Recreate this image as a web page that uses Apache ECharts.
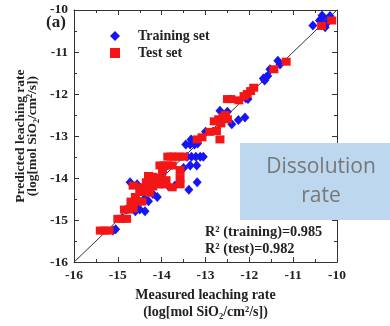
<!DOCTYPE html>
<html>
<head>
<meta charset="utf-8">
<script src="https://cdn.jsdelivr.net/npm/echarts@6/dist/echarts.min.js"></script>
<style>
html,body{margin:0;padding:0;background:#fff;}
#chart{width:390px;height:326px;}
</style>
</head>
<body>
<div id="chart"></div>
<script>
// ---- data (log[mol SiO2/cm2/s]) ----
const seriesNames = ['Training set', 'Test set'];
const xTicks = [-16, -15, -14, -13, -12, -11, -10];
const yTicks = [-16, -15, -14, -13, -12, -11, -10];
const diagonal = [[-16, -16], [-10, -10]];
const trainingSet = [
  [-10.32,-10.18],[-10.34,-10.13],[-10.16,-10.14],[-10.27,-10.41],[-10.55,-10.37],[-10.22,-10.30],[-10.40,-10.25],
  [-11.35,-11.21],[-11.30,-11.30],[-11.53,-11.41],[-11.62,-11.60],[-11.68,-11.63],[-11.65,-11.68],[-11.58,-11.57],
  [-12.03,-12.12],[-12.08,-12.10],
  [-12.67,-12.40],[-12.50,-12.42],[-12.10,-12.56],[-12.25,-12.62],[-12.40,-12.72],
  [-13.00,-12.90],[-13.33,-13.08],[-13.45,-13.20],[-13.35,-13.20],[-13.25,-13.20],[-13.18,-13.18],
  [-13.42,-13.49],[-13.32,-13.49],[-13.22,-13.49],[-13.12,-13.49],[-13.05,-13.49],
  [-13.35,-13.70],[-13.50,-13.76],[-13.20,-13.70],[-13.19,-14.10],[-13.38,-14.28],
  [-13.90,-13.72],[-14.00,-13.95],[-13.85,-14.18],[-13.70,-14.18],
  [-14.56,-14.15],[-14.72,-14.10],[-14.20,-14.38],[-14.10,-14.45],[-14.30,-14.55],
  [-14.38,-14.50],[-14.56,-14.60],[-14.60,-14.79],[-14.80,-14.75],[-14.38,-14.79],[-14.50,-14.75],
  [-14.90,-14.95],[-15.11,-15.25],[-15.05,-15.22]
];
const testSet = [
  [-10.12,-10.25],[-10.35,-10.38],
  [-11.16,-11.23],[-11.44,-11.41],
  [-11.90,-11.85],[-11.97,-11.93],[-12.05,-12.00],[-12.12,-12.05],
  [-12.50,-12.12],[-12.42,-12.12],[-12.24,-12.15],
  [-12.55,-12.50],[-12.60,-12.55],[-12.70,-12.60],[-12.80,-12.65],[-12.65,-12.70],[-12.50,-12.60],
  [-12.90,-12.90],[-12.75,-12.88],[-12.67,-13.08],[-13.08,-13.03],[-13.19,-13.08],
  [-13.86,-13.49],[-13.78,-13.49],[-13.70,-13.49],[-13.60,-13.49],[-13.50,-13.49],
  [-14.04,-13.70],[-13.95,-13.70],[-13.85,-13.70],[-13.76,-13.70],[-13.98,-13.82],
  [-13.58,-13.81],[-13.58,-14.00],[-13.58,-14.15],[-13.76,-14.22],
  [-14.30,-13.95],[-14.20,-13.97],[-14.10,-14.00],[-14.00,-14.02],[-13.90,-14.05],
  [-14.35,-14.10],[-14.25,-14.10],[-14.15,-14.12],[-14.05,-14.15],[-13.95,-14.15],
  [-14.65,-14.18],[-14.45,-14.22],[-14.35,-14.25],[-14.20,-14.20],
  [-14.50,-14.33],[-14.40,-14.33],[-14.28,-14.35],
  [-14.60,-14.45],[-14.70,-14.56],[-14.55,-14.56],[-14.45,-14.56],
  [-14.85,-14.75],[-14.75,-14.75],[-14.65,-14.72],
  [-15.00,-14.97],[-14.90,-14.97],[-14.80,-14.97],
  [-15.40,-15.25],[-15.30,-15.25],[-15.20,-15.25]
];
const r2Lines = ['R\u00b2 (training)=0.985', 'R\u00b2 (test)=0.982'];
const xName = 'Measured leaching rate\n(log[mol SiO\u2082/cm\u00b2/s])';
const yName = 'Predicted leaching rate\n(log[mol SiO\u2082/cm\u00b2/s])';

const SERIF = '"Liberation Serif", "DejaVu Serif", serif';
const axisColor = '#333';
const xMin = xTicks[0], xMax = xTicks[xTicks.length - 1];
const yMin = yTicks[0], yMax = yTicks[yTicks.length - 1];

function makeAxis(isX, pos, showLabel, extra) {
  return Object.assign({
    type: 'value',
    position: pos,
    min: isX ? xMin : yMin,
    max: isX ? xMax : yMax,
    interval: 1,
    axisLine: { show: true, onZero: false, lineStyle: { color: axisColor, width: 1 } },
    axisTick: { show: true, inside: true, length: 5, lineStyle: { color: axisColor } },
    minorTick: { show: true, splitNumber: 2, length: 3, lineStyle: { color: axisColor } },
    splitLine: { show: false },
    minorSplitLine: { show: false },
    axisLabel: {
      show: showLabel, margin: 6, color: '#222', fontFamily: SERIF, fontWeight: 'bold', fontSize: 13.5
    }
  }, extra || {});
}

const chart = echarts.init(document.getElementById('chart'), null, { renderer: 'canvas' });
chart.setOption({
  animation: false,
  backgroundColor: '#fff',
  grid: { left: 74, top: 10, width: 263, height: 263, containLabel: false },
  legend: {
    orient: 'vertical', left: 105, top: 24, itemWidth: 10, itemHeight: 10, itemGap: 3,
    data: [
      { name: seriesNames[0], icon: 'diamond' },
      { name: seriesNames[1], icon: 'rect' }
    ],
    textStyle: { fontFamily: SERIF, fontWeight: 'bold', fontSize: 14, color: '#222', padding: [0, 0, 0, 13] }
  },
  xAxis: [
    makeAxis(true, 'bottom', true, {
      name: xName, nameLocation: 'middle', nameGap: 22,
      nameTextStyle: { fontFamily: SERIF, fontWeight: 'bold', fontSize: 14, color: '#222', lineHeight: 17 }
    }),
    makeAxis(true, 'top', false)
  ],
  yAxis: [
    makeAxis(false, 'left', true, {
      name: yName, nameLocation: 'middle', nameGap: 35, nameRotate: 90,
      nameTextStyle: { fontFamily: SERIF, fontWeight: 'bold', fontSize: 13.5, color: '#222', lineHeight: 12 }
    }),
    makeAxis(false, 'right', false)
  ],
  series: [
    {
      name: 'diagonal', type: 'line', data: diagonal, symbol: 'none', silent: true,
      lineStyle: { color: '#333', width: 1 }, z: 1
    },
    {
      name: seriesNames[0], type: 'scatter', data: trainingSet, symbol: 'diamond', symbolSize: [9, 10],
      itemStyle: { color: '#1616f2', opacity: 1 }, z: 2
    },
    {
      name: seriesNames[1], type: 'scatter', data: testSet, symbol: 'rect', symbolSize: [9, 8],
      itemStyle: { color: '#f21616', opacity: 1 }, z: 3
    }
  ],
  graphic: [
    {
      type: 'text', left: 46, top: 14, z: 50,
      style: { text: '(a)', fontFamily: SERIF, fontWeight: 'bold', fontSize: 17, fill: '#222' }
    },
    {
      type: 'text', left: 205, top: 225, z: 50,
      style: { text: r2Lines[0], fontFamily: SERIF, fontWeight: 'bold', fontSize: 14.3, fill: '#222' }
    },
    {
      type: 'text', left: 205, top: 242, z: 50,
      style: { text: r2Lines[1], fontFamily: SERIF, fontWeight: 'bold', fontSize: 14.3, fill: '#222' }
    },
    {
      type: 'rect', left: 240, top: 143, z: 100,
      shape: { width: 150, height: 77 },
      style: { fill: '#bdd7ee' }
    },
    {
      type: 'text', x: 321, y: 182, z: 101,
      style: {
        text: 'Dissolution\nrate', fontFamily: '"Open Sans", "Noto Sans", sans-serif', fontSize: 21,
        lineHeight: 29, fill: '#777', align: 'center', verticalAlign: 'middle'
      }
    }
  ]
});
</script>
</body>
</html>
